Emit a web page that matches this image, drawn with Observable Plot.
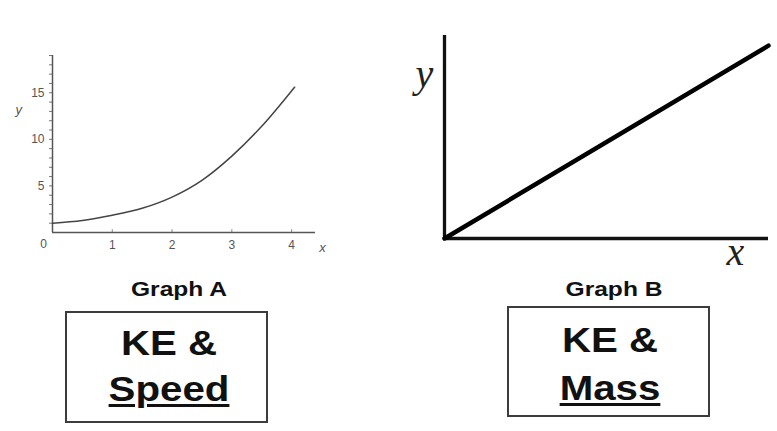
<!DOCTYPE html>
<html><head><meta charset="utf-8">
<script src="https://cdn.jsdelivr.net/npm/d3@7"></script>
<script src="https://cdn.jsdelivr.net/npm/@observablehq/plot@0.6"></script>
<style>
body{margin:0;background:#fff;}
#root{position:relative;width:777px;height:431px;overflow:hidden;background:#fff;font-family:"Liberation Sans",Arial,sans-serif;}
.plot{position:absolute;top:0;}
.lbl{position:absolute;white-space:nowrap;font-weight:bold;color:#111;line-height:1;text-align:center;}
.box{position:absolute;border:2px solid #3c3c3c;box-sizing:border-box;}
.u{text-decoration:underline;text-decoration-thickness:3px;text-underline-offset:3px;}
</style></head><body><div id="root"></div>
<script>
// ---- data: Graph A (KE vs speed) ----
const speedA = [0, 0.5, 1, 1.5, 2, 2.5, 3, 3.5, 4.05];
const keA    = [1.0, 1.3, 1.85, 2.6, 3.8, 5.6, 8.2, 11.4, 15.6];
const xTicksA = [1, 2, 3, 4];
const yTicksA = [5, 10, 15];
const yMinorA = [1,2,3,4,5,6,7,8,9,10,11,12,13,14,15,16,17,18,19];
// ---- data: Graph B (KE vs mass) ----
const massB = [0, 10];
const keB   = [0, 9.5];
// ---- texts ----
const titles = ["Graph A", "Graph B"];
const boxLine1 = ["KE &", "KE &"];
const boxLine2 = ["Speed", "Mass"];

const root = document.getElementById("root");

const dataA = speedA.map((s, i) => ({x: s, y: keA[i]}));
const plotA = Plot.plot({
  width: 340, height: 260,
  marginLeft: 52, marginRight: 25, marginTop: 55, marginBottom: 28,
  style: {fontFamily: "Liberation Sans, Arial, sans-serif", background: "transparent", overflow: "visible"},
  x: {domain: [0, 4.4], axis: null},
  y: {domain: [0, 19], axis: null},
  marks: [
    Plot.axisY(yMinorA, {anchor: "left", tickSize: 3, tickFormat: () => "", stroke: "#777", label: null}),
    Plot.axisY(yTicksA, {anchor: "left", tickSize: 0, tickPadding: 8, fontSize: 12, fill: "#555", label: null}),
    Plot.axisX(xTicksA, {anchor: "bottom", tickSize: 0, tickPadding: 8, fontSize: 12, fill: "#555", label: null}),
    Plot.ruleX(xTicksA, {y1: 0, y2: 0.3, stroke: "#888"}),
    Plot.ruleX([0], {y1: 0, y2: 19, stroke: "#555", strokeWidth: 1.5}),
    Plot.ruleY([0], {x1: 0, x2: 4.4, stroke: "#555", strokeWidth: 1.5}),
    Plot.line(dataA, {x: "x", y: "y", curve: "monotone-x", stroke: "#444", strokeWidth: 1.5}),
    Plot.text(["0"], {x: 0, y: 0, dx: -9, dy: 12, fontSize: 12, fill: "#555"}),
    Plot.text(["y"], {frameAnchor: "left", y: 13.2, dx: -37, fontSize: 13, fontStyle: "italic", fill: "#555"}),
    Plot.text(["x"], {x: 4.4, y: 0, dx: 7, dy: 15, fontSize: 13, fontStyle: "italic", fill: "#555"})
  ]
});
plotA.classList.add("plot");
plotA.style.left = "0px";
root.appendChild(plotA);

const dataB = massB.map((m, i) => ({x: m, y: keB[i]}));
const plotB = Plot.plot({
  width: 377, height: 260,
  marginLeft: 44, marginRight: 9, marginTop: 35, marginBottom: 22,
  style: {fontFamily: "Liberation Serif, Times New Roman, serif", background: "transparent", overflow: "visible"},
  x: {domain: [0, 10], axis: null},
  y: {domain: [0, 10], axis: null},
  marks: [
    Plot.ruleX([0], {y1: 0, y2: 10, stroke: "#111", strokeWidth: 3.3}),
    Plot.ruleY([0], {x1: 0, x2: 10, stroke: "#111", strokeWidth: 3.3}),
    Plot.line(dataB, {x: "x", y: "y", stroke: "#000", strokeWidth: 4.5, strokeLinecap: "round"}),
    Plot.text(["y"], {frameAnchor: "left", y: 8.1, dx: -29, fontSize: 40, fontStyle: "italic", fill: "#222"}),
    Plot.text(["x"], {x: 8.98, y: 0, dy: 14, fontSize: 40, fontStyle: "italic", fill: "#222"})
  ]
});
plotB.classList.add("plot");
plotB.style.left = "400px";
root.appendChild(plotB);

// boxes
function addBox(l, t, w, h) {
  const b = document.createElement("div");
  b.className = "box";
  Object.assign(b.style, {left: l + "px", top: t + "px", width: w + "px", height: h + "px"});
  root.appendChild(b);
}
addBox(65, 311, 203, 112);
addBox(507, 306, 203, 111);

function addLabel(text, cx, baseline, size, sx, underline) {
  const d = document.createElement("div");
  d.className = "lbl" + (underline ? " u" : "");
  d.textContent = text;
  d.style.fontSize = size + "px";
  d.style.left = cx + "px";
  d.style.top = (baseline - 0.8465 * size) + "px";
  d.style.transform = "translateX(-50%) scaleX(" + sx + ")";
  root.appendChild(d);
}
addLabel(titles[0], 179, 296, 21, 1.17, false);
addLabel(titles[1], 614, 296, 21, 1.17, false);
addLabel(boxLine1[0], 169, 355, 35, 1.15, false);
addLabel(boxLine2[0], 169, 400.7, 35, 1.15, true);
addLabel(boxLine1[1], 609.7, 351.7, 35, 1.15, false);
addLabel(boxLine2[1], 610, 400, 35, 1.15, true);
</script></body></html>
